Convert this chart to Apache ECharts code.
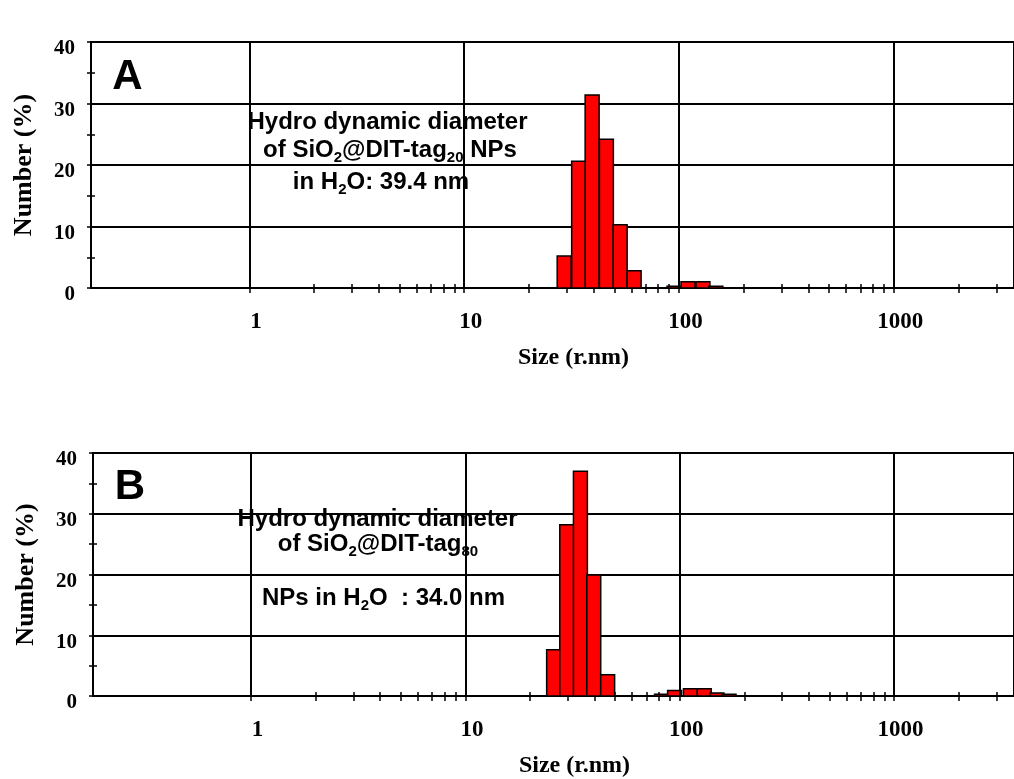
<!DOCTYPE html>
<html>
<head>
<meta charset="utf-8">
<script src="https://cdn.jsdelivr.net/npm/echarts@6/dist/echarts.min.js"></script>
<style>
  html, body { margin: 0; padding: 0; background: #ffffff; }
  #chart { width: 1014px; height: 779px; }
</style>
</head>
<body>
<div id="chart"></div>
<script>
// Number distribution (%) per size class — SiO2@DIT-tag20 NPs (panel A)
const sizeA   = [29.2, 34.1, 39.4, 45.9, 53.2, 61.8, 94.8, 110.1, 129.2, 148.5];
const numberA = [5.2, 20.6, 31.4, 24.2, 10.3, 2.8, 0.3, 1.0, 1.0, 0.3];

// Number distribution (%) per size class — SiO2@DIT-tag80 NPs (panel B)
const sizeB   = [25.8, 29.7, 34.4, 39.7, 46.1, 82.2, 94.6, 112.2, 130.1, 149.2, 169.8];
const numberB = [7.6, 28.2, 37.0, 19.9, 3.5, 0.3, 0.9, 1.2, 1.2, 0.5, 0.3];

// Axis ticks and labels
const xTickLabels = [1, 10, 100, 1000];
const xTickMultipliers = [1, 2, 3, 4, 5, 6, 7, 8, 9];
const yTickLabels = [0, 10, 20, 30, 40];
const yTickValues = [0, 5, 10, 15, 20, 25, 30, 35, 40];
const sizeRange = [0.183, 3627];

// The size axis is drawn in log10 space
const LOG_MIN = Math.log10(sizeRange[0]);
const LOG_MAX = Math.log10(sizeRange[1]);
const BIN_HALF = 0.0325;           // half the width of one size class, in decades

const xLabelLogs = xTickLabels.map(v => Math.log10(v));
const xTickLogs = [];
xTickLabels.forEach(dec => xTickMultipliers.forEach(m => {
  const v = dec * m;
  if (v <= sizeRange[1]) xTickLogs.push(Math.log10(v));
}));

const SERIF = 'Liberation Serif';
const SANS = 'Liberation Sans';

function toData(sizes, values) {
  return sizes.map((s, i) => [Math.log10(s), values[i]]);
}

function renderBar(params, api) {
  const c = api.value(0);
  const v = api.value(1);
  const p0 = api.coord([c - BIN_HALF, 0]);
  const p1 = api.coord([c + BIN_HALF, v]);
  return {
    type: 'rect',
    shape: { x: p0[0], y: p1[1], width: p1[0] - p0[0], height: p0[1] - p1[1] },
    style: { fill: '#ff0000', stroke: '#000000', lineWidth: 1.5 }
  };
}

function xAxes(gridIndex) {
  return [
    {
      gridIndex, type: 'value', min: LOG_MIN, max: LOG_MAX, position: 'bottom',
      axisLine: { show: true, onZero: false, lineStyle: { color: '#000', width: 2 } },
      axisTick: { show: true, customValues: xTickLogs, length: 5, lineStyle: { color: '#000', width: 1.5 } },
      axisLabel: {
        customValues: xLabelLogs,
        formatter: v => String(Math.round(Math.pow(10, v))),
        fontFamily: SERIF, fontWeight: 'bold', fontSize: 23, color: '#000',
        margin: 23, padding: [0, 0, 0, 13]
      },
      splitLine: { show: false },
      name: 'Size (r.nm)', nameLocation: 'middle', nameGap: 58,
      nameTextStyle: { fontFamily: SERIF, fontWeight: 'bold', fontSize: 24, color: '#000', padding: [0, 0, 0, 42] }
    },
    {
      gridIndex, type: 'value', min: LOG_MIN, max: LOG_MAX, position: 'bottom',
      axisLine: { show: false, onZero: false },
      axisTick: { show: true, inside: true, customValues: xTickLogs, length: 4, lineStyle: { color: '#000', width: 1.5 } },
      axisLabel: { show: false },
      splitLine: { show: false }
    }
  ];
}

function yAxes(gridIndex) {
  return [
    {
      gridIndex, type: 'value', min: 0, max: 40, interval: 10, position: 'left',
      axisLine: { show: true, onZero: false, lineStyle: { color: '#000', width: 2 } },
      axisTick: { show: true, length: 4, lineStyle: { color: '#000', width: 1.5 } },
      minorTick: { show: true, splitNumber: 2, length: 4, lineStyle: { color: '#000', width: 1.5 } },
      axisLabel: {
        customValues: yTickLabels,
        fontFamily: SERIF, fontWeight: 'bold', fontSize: 21, color: '#000',
        margin: 16, verticalAlign: 'top', lineHeight: 14
      },
      splitLine: { show: true, lineStyle: { color: '#000', width: 2 } },
      name: 'Number (%)', nameLocation: 'middle', nameGap: 54,
      nameTextStyle: { fontFamily: SERIF, fontWeight: 'bold', fontSize: 26, color: '#000' }
    },
    {
      gridIndex, type: 'value', min: 0, max: 40, interval: 10, position: 'left',
      axisLine: { show: false, onZero: false },
      axisTick: { show: true, inside: true, customValues: yTickValues, length: 4, lineStyle: { color: '#000', width: 1.5 } },
      axisLabel: { show: false },
      splitLine: { show: false }
    }
  ];
}

function panelSeries(idx, sizes, values) {
  return [
    {
      type: 'line', xAxisIndex: idx * 2, yAxisIndex: idx * 2, data: [], z: 1,
      markLine: {
        silent: true, symbol: ['none', 'none'], animation: false,
        label: { show: false },
        lineStyle: { color: '#000', width: 2, type: 'solid' },
        data: xLabelLogs.map(v => ({ xAxis: v }))
      }
    },
    {
      type: 'custom', xAxisIndex: idx * 2, yAxisIndex: idx * 2, z: 3,
      renderItem: renderBar, encode: { x: 0, y: 1 },
      data: toData(sizes, values)
    }
  ];
}

const MAIN = { fontFamily: SANS, fontWeight: 'bold', fontSize: 24, lineHeight: 30, fill: '#000', color: '#000' };
const SUB = { fontFamily: SANS, fontWeight: 'bold', fontSize: 15, lineHeight: 15, verticalAlign: 'bottom', fill: '#000', color: '#000' };

function note(x, y, text) {
  return {
    type: 'text', x, y, z: 10,
    style: {
      text, rich: { m: MAIN, s: SUB },
      align: 'center', verticalAlign: 'middle',
      textAlign: 'center', textVerticalAlign: 'middle',
      fill: '#000'
    }
  };
}

function panelLetter(x, y, text) {
  return {
    type: 'text', x, y, z: 10,
    style: {
      text, font: 'bold 42px "Liberation Sans"', fill: '#000',
      align: 'center', verticalAlign: 'middle',
      textAlign: 'center', textVerticalAlign: 'middle'
    }
  };
}

const chart = echarts.init(document.getElementById('chart'), null, { renderer: 'canvas' });

chart.setOption({
  animation: false,
  backgroundColor: '#ffffff',
  grid: [
    { left: 91, top: 42, right: -3, height: 246, show: true, borderColor: '#000', borderWidth: 2, backgroundColor: 'transparent' },
    { left: 93, top: 453, right: -3, height: 247.5, show: true, borderColor: '#000', borderWidth: 2, backgroundColor: 'transparent' }
  ],
  xAxis: [...xAxes(0), ...xAxes(1)],
  yAxis: [...yAxes(0), ...yAxes(1)],
  series: [
    ...panelSeries(0, sizeA, numberA),
    ...panelSeries(1, sizeB, numberB)
  ],
  graphic: [
    panelLetter(127.5, 77.5, 'A'),
    panelLetter(130, 487, 'B'),
    note(387.5, 122, '{m|Hydro dynamic diameter}'),
    note(390, 150, '{m|of SiO}{s|2}{m|@DIT-tag}{s|20}{m| NPs}'),
    note(381, 182, '{m|in H}{s|2}{m|O: 39.4 nm}'),
    note(377.5, 519, '{m|Hydro dynamic diameter}'),
    note(378, 544, '{m|of SiO}{s|2}{m|@DIT-tag}{s|80}'),
    note(383.5, 598, '{m|NPs in H}{s|2}{m|O  : 34.0 nm}')
  ]
});
</script>
</body>
</html>
